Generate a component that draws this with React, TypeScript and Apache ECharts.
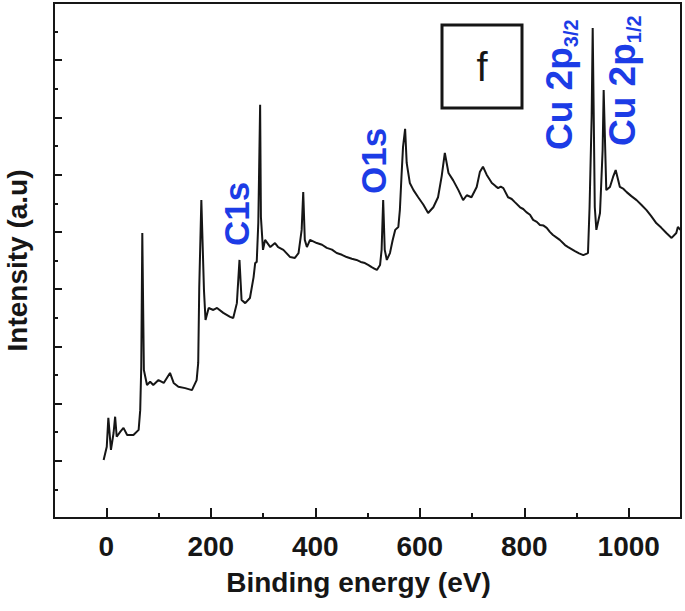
import React, { useEffect, useRef } from "react";
import * as echarts from "echarts";

const energy = [
  -5, 1, 4, 9, 14, 17, 20, 27, 33, 40, 52, 62, 65, 67, 69, 72, 78, 84, 90, 100,
  110, 122, 129, 138, 151, 164, 173, 176, 178, 182, 187, 190, 196, 205, 212, 224,
  237, 243, 250, 255, 259, 266, 275, 282, 285, 288, 291, 294.5, 296, 300, 304,
  314, 323, 329, 339, 352, 361, 368, 374, 377, 380, 384, 390, 403, 413, 422, 432,
  441, 451, 460, 470, 479, 487, 495, 502, 508, 513, 518, 524, 527, 530, 533, 537,
  543, 548, 553, 559, 562, 565, 568, 572, 575, 581, 588, 597, 607, 616, 626, 635,
  642, 648, 655, 664, 674, 683, 690, 699, 709, 715, 721, 728, 738, 745, 750, 755,
  760, 769, 776, 782, 792, 798, 804, 811, 817, 824, 830, 837, 843, 849, 855, 862,
  868, 878, 884, 897, 905, 913, 922, 925, 929, 931, 933, 935, 938, 945, 950, 952,
  955, 957, 964, 970, 975, 983, 990, 996, 1005, 1015, 1024, 1034, 1043, 1053,
  1062, 1072, 1082, 1091, 1094, 1099,
];

const intensity = [
  2.03, 2.49, 3.5, 2.38, 2.97, 3.54, 2.84, 3.02, 3.15, 2.9, 2.9, 3.08, 3.77, 5.29,
  9.96, 5.17, 4.65, 4.76, 4.65, 4.82, 4.72, 5.07, 4.72, 4.59, 4.54, 4.47, 4.82,
  5.42, 8.07, 11.11, 7.97, 6.92, 7.34, 7.27, 7.34, 7.17, 7.03, 6.99, 7.51, 9.02,
  7.62, 7.51, 7.69, 8.42, 8.91, 8.95, 10.31, 14.44, 10.52, 9.37, 9.72, 9.47, 9.61,
  9.47, 9.37, 9.12, 9.09, 9.26, 10.07, 11.39, 9.72, 9.47, 9.72, 9.61, 9.55, 9.44,
  9.38, 9.26, 9.2, 9.12, 9.06, 9.02, 8.95, 8.91, 8.84, 8.77, 8.72, 8.67, 8.84,
  9.37, 11.11, 9.37, 9.02, 9.26, 9.7, 10.07, 10.17, 10.78, 11.92, 12.97, 13.6,
  12.41, 11.71, 11.46, 11.21, 10.95, 10.66, 10.86, 11.21, 11.95, 12.76, 12.06,
  11.8, 11.46, 11.11, 11.28, 11.21, 11.57, 12.09, 12.28, 12.0, 11.71, 11.6, 11.53,
  11.58, 11.53, 11.21, 11.15, 11.04, 10.86, 10.8, 10.69, 10.6, 10.42, 10.35,
  10.24, 10.22, 10.14, 10.0, 9.89, 9.8, 9.72, 9.54, 9.47, 9.33, 9.25, 9.19, 9.26,
  10.86, 14.02, 17.13, 14.02, 10.86, 10.07, 10.66, 12.86, 14.96, 12.86, 11.46,
  11.57, 11.92, 12.16, 11.57, 11.5, 11.39, 11.25, 11.11, 10.95, 10.76, 10.55,
  10.3, 10.15, 9.96, 9.79, 9.96, 10.17, 10.07,
];

const xMajorTicks = [0, 200, 400, 600, 800, 1000];
const xMinorTicks = [100, 300, 500, 700, 900];

const xAxisTitle = "Binding energy (eV)";
const yAxisTitle = "Intensity (a.u)";
const panelLetter = "f";

const FONT = "'Liberation Sans', Arial, Helvetica, sans-serif";
const BLUE = "#1c3ce6";
const INK = "#161616";

export default function App() {
  const ref = useRef<HTMLDivElement>(null);

  useEffect(() => {
    if (!ref.current) return;
    const chart = echarts.init(ref.current, null, { renderer: "svg" });
    const data = energy.map((e, i) => [e, intensity[i]]);

    const labelStyle = (text: string) => ({
      text,
      fontFamily: FONT,
      fontWeight: "bold",
      fontSize: 35,
      fill: BLUE,
      textAlign: "left",
      textVerticalAlign: "middle",
    });

    const richLabel = (main: string, sub: string) => ({
      text: `{a|${main}}{b|${sub}}`,
      textAlign: "left",
      textVerticalAlign: "middle",
      rich: {
        a: {
          fontFamily: FONT,
          fontWeight: "bold",
          fontSize: 37,
          fill: BLUE,
          color: BLUE,
          lineHeight: 44,
          verticalAlign: "middle",
        },
        b: {
          fontFamily: FONT,
          fontWeight: "bold",
          fontSize: 20,
          fill: BLUE,
          color: BLUE,
          lineHeight: 20,
          verticalAlign: "bottom",
        },
      },
    });

    chart.setOption({
      animation: false,
      backgroundColor: "#ffffff",
      grid: {
        left: 54,
        right: 4,
        top: 3,
        bottom: 93,
        show: true,
        containLabel: false,
        outerBoundsMode: "none",
        borderColor: INK,
        borderWidth: 2,
        backgroundColor: "transparent",
      },
      xAxis: [
        {
          type: "value",
          min: -100,
          max: 1100,
          name: xAxisTitle,
          nameLocation: "middle",
          nameGap: 50,
          nameTextStyle: {
            fontFamily: FONT,
            fontWeight: "bold",
            fontSize: 28,
            color: INK,
            padding: [0, 18, 0, 0],
          },
          axisLine: {
            show: true,
            onZero: false,
            lineStyle: { color: INK, width: 2 },
          },
          axisTick: {
            show: true,
            inside: true,
            length: 10,
            customValues: xMajorTicks,
            lineStyle: { color: INK, width: 2 },
          },
          axisLabel: {
            customValues: xMajorTicks,
            formatter: (v: number) => String(v),
            fontFamily: FONT,
            fontWeight: "bold",
            fontSize: 28,
            color: INK,
            margin: 14,
          },
          splitLine: { show: false },
        },
        {
          type: "value",
          min: -100,
          max: 1100,
          position: "bottom",
          axisLine: { show: false, onZero: false },
          axisTick: {
            show: true,
            inside: true,
            length: 5,
            customValues: xMinorTicks,
            lineStyle: { color: INK, width: 2 },
          },
          axisLabel: { show: false },
          splitLine: { show: false },
        },
      ],
      yAxis: {
        type: "value",
        min: 0,
        max: 18,
        interval: 2,
        position: "left",
        name: yAxisTitle,
        nameLocation: "middle",
        nameGap: 23,
        nameTextStyle: {
          fontFamily: FONT,
          fontWeight: "bold",
          fontSize: 28,
          color: INK,
        },
        axisLine: {
          show: true,
          onZero: false,
          lineStyle: { color: INK, width: 2 },
        },
        axisTick: {
          show: true,
          inside: true,
          length: 8,
          lineStyle: { color: INK, width: 2 },
        },
        minorTick: {
          show: true,
          splitNumber: 2,
          length: 4,
          lineStyle: { color: INK, width: 2 },
        },
        axisLabel: { show: false },
        splitLine: { show: false },
        minorSplitLine: { show: false },
      },
      series: [
        {
          type: "line",
          xAxisIndex: 0,
          data,
          showSymbol: false,
          symbol: "none",
          lineStyle: { color: INK, width: 2 },
          z: 3,
        },
      ],
      graphic: [
        {
          type: "text",
          x: 236,
          y: 246,
          rotation: Math.PI / 2,
          style: labelStyle("C1s"),
        },
        {
          type: "text",
          x: 373,
          y: 194,
          rotation: Math.PI / 2,
          style: labelStyle("O1s"),
        },
        {
          type: "text",
          x: 559,
          y: 150,
          rotation: Math.PI / 2,
          style: richLabel("Cu 2p", "3/2"),
        },
        {
          type: "text",
          x: 622,
          y: 146,
          rotation: Math.PI / 2,
          style: richLabel("Cu 2p", "1/2"),
        },
        {
          type: "rect",
          shape: { x: 442, y: 25, width: 80, height: 83 },
          style: { fill: "transparent", stroke: INK, lineWidth: 3 },
        },
        {
          type: "text",
          x: 482,
          y: 67,
          style: {
            text: panelLetter,
            fontFamily: FONT,
            fontSize: 40,
            fill: INK,
            textAlign: "center",
            textVerticalAlign: "middle",
          },
        },
      ],
    });

    return () => chart.dispose();
  }, []);

  return (
    <div
      ref={ref}
      style={{ position: "fixed", left: 0, top: 0, width: 685, height: 611 }}
    />
  );
}
